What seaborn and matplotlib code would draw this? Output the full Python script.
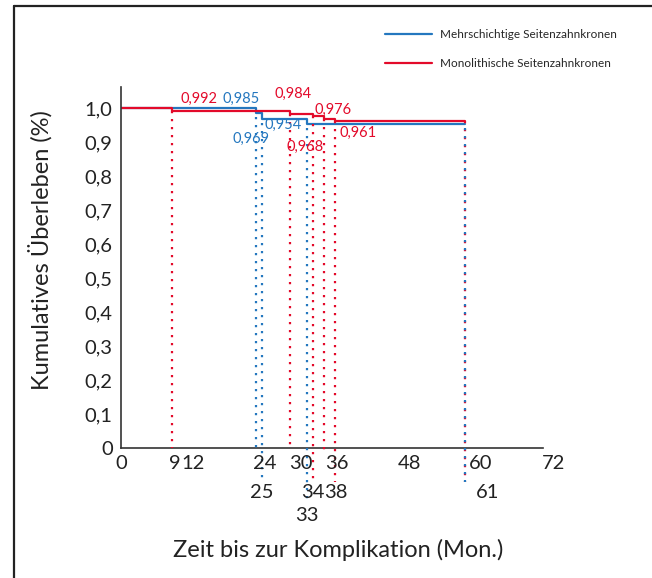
import matplotlib
matplotlib.use("Agg")
import matplotlib.pyplot as plt
import matplotlib.transforms as mtransforms
from matplotlib.lines import Line2D
import numpy as np
import pandas as pd
import seaborn as sns

# Kaplan-Meier estimates (months, cumulative survival)
group_names = ["Mehrschichtige Seitenzahnkronen", "Monolithische Seitenzahnkronen"]
mehr_times = [0, 24, 25, 33, 61]
mehr_surv = [1.0, 0.985, 0.969, 0.954, 0.954]
mono_times = [0, 9, 30, 34, 36, 38, 61]
mono_surv = [1.0, 0.992, 0.984, 0.976, 0.968, 0.961, 0.961]

x_ticks = [0, 12, 24, 36, 48, 60, 72]
y_ticks = [0.0, 0.1, 0.2, 0.3, 0.4, 0.5, 0.6, 0.7, 0.8, 0.9, 1.0]
x_label_rows = [[0, 9, 12, 24, 30, 36, 48, 60, 72], [25, 34, 38, 61], [33]]

BLUE = "#2477bf"
RED = "#e30a2a"
INK = "#333333"

sns.set_style("white")
plt.rcParams["font.family"] = ["Lato", "DejaVu Sans"]

df = pd.concat([
    pd.DataFrame({"t": mehr_times, "s": mehr_surv, "g": group_names[0]}),
    pd.DataFrame({"t": mono_times, "s": mono_surv, "g": group_names[1]}),
], ignore_index=True)

fig = plt.figure(figsize=(6.52, 5.78), dpi=100)
ax = fig.add_axes([121 / 652, 130 / 578, 422 / 652, 361 / 578])

sns.lineplot(data=df, x="t", y="s", hue="g", palette=[BLUE, RED],
             drawstyle="steps-post", linewidth=1.6, legend=False, ax=ax,
             estimator=None, sort=True)
ax.set_xlabel("")
ax.set_ylabel("")

ax.set_xlim(0, 74.8)
ax.set_ylim(0, 1.062)

# dotted drop lines at each event time
def drops(times, surv, color, phase):
    rows = {m: r for r, row in enumerate(x_label_rows) for m in row}
    bottoms = {0: 0.0, 1: -0.1, 2: -0.162}
    for t, s in zip(times[1:], surv[1:]):
        bottom = bottoms[rows.get(t, 0)]
        if t == 36:
            bottom = -0.02
        ax.plot([t, t], [s, bottom], color=color, lw=1.6,
                linestyle=(phase, (1, 2.6)), clip_on=False, zorder=3)

drops(mono_times, mono_surv, RED, 0)
drops(mehr_times, mehr_surv, BLUE, 1.8)

# value annotations (offsets in pixels from each step)
offsets_mono = {9: (27, 12), 30: (3, 20), 34: (20, 6), 36: (-19, -28), 38: (23, -12)}
offsets_mehr = {24: (-15, 14), 25: (-11, -20), 33: (-24, -1)}
for times, surv, color, offs in [(mono_times, mono_surv, RED, offsets_mono),
                                 (mehr_times, mehr_surv, BLUE, offsets_mehr)]:
    for t, s in zip(times[1:], surv[1:]):
        if t not in offs:
            continue
        ax.annotate(f"{s:.3f}".replace(".", ","), (t, s), xytext=offs[t],
                    textcoords="offset pixels", ha="center", va="center",
                    color=color, fontsize=10.5, zorder=5)

# axes styling
for side in ["top", "right"]:
    ax.spines[side].set_visible(False)
for side in ["left", "bottom"]:
    ax.spines[side].set_color(INK)
    ax.spines[side].set_linewidth(1.2)
ax.set_yticks(y_ticks)
ax.set_yticklabels(["0" if v == 0 else f"{v:.1f}".replace(".", ",") for v in y_ticks],
                   fontsize=14.5, color="#222222")
ax.tick_params(axis="y", length=4, width=1.0, color=INK, pad=2)
ax.set_xticks(x_ticks)
ax.set_xticklabels([])
ax.tick_params(axis="x", length=4, width=1.0, color=INK)

# x tick labels in staggered rows
row_y = [-0.044, -0.122, -0.186]
xt = ax.get_xaxis_transform()
for r, row in enumerate(x_label_rows):
    for m in row:
        shift = 0.36 * m if (r == 0 or m >= 48) else 0
        tr = xt + mtransforms.ScaledTranslation(shift / 100, 0, fig.dpi_scale_trans)
        ax.text(m, row_y[r], str(m), transform=tr, ha="center", va="center",
                fontsize=14.5, color="#222222", clip_on=False)

fig.text(40 / 652, 1 - 250 / 578, "Kumulatives Überleben (%)", rotation=90,
         ha="center", va="center", fontsize=17, color="#222222")
fig.text(338 / 652, 1 - 550 / 578, "Zeit bis zur Komplikation (Mon.)",
         ha="center", va="center", fontsize=17, color="#222222")

# legend
handles = [Line2D([], [], color=BLUE, lw=1.6), Line2D([], [], color=RED, lw=1.6)]
fig.legend(handles, group_names, loc="upper left",
           bbox_to_anchor=(385 / 652, 1 - 29 / 578), frameon=False, fontsize=8.5,
           handlelength=4.0, handletextpad=0.7, labelspacing=1.5,
           borderpad=0, borderaxespad=0)

# frame lines at top and left of the figure
fig.add_artist(Line2D([14 / 652, 1], [1 - 6 / 578] * 2, color="#222222", lw=1.6,
                      transform=fig.transFigure))
fig.add_artist(Line2D([14 / 652] * 2, [0, 1 - 6 / 578], color="#222222", lw=1.6,
                      transform=fig.transFigure))

fig.savefig("out.png", dpi=100)
